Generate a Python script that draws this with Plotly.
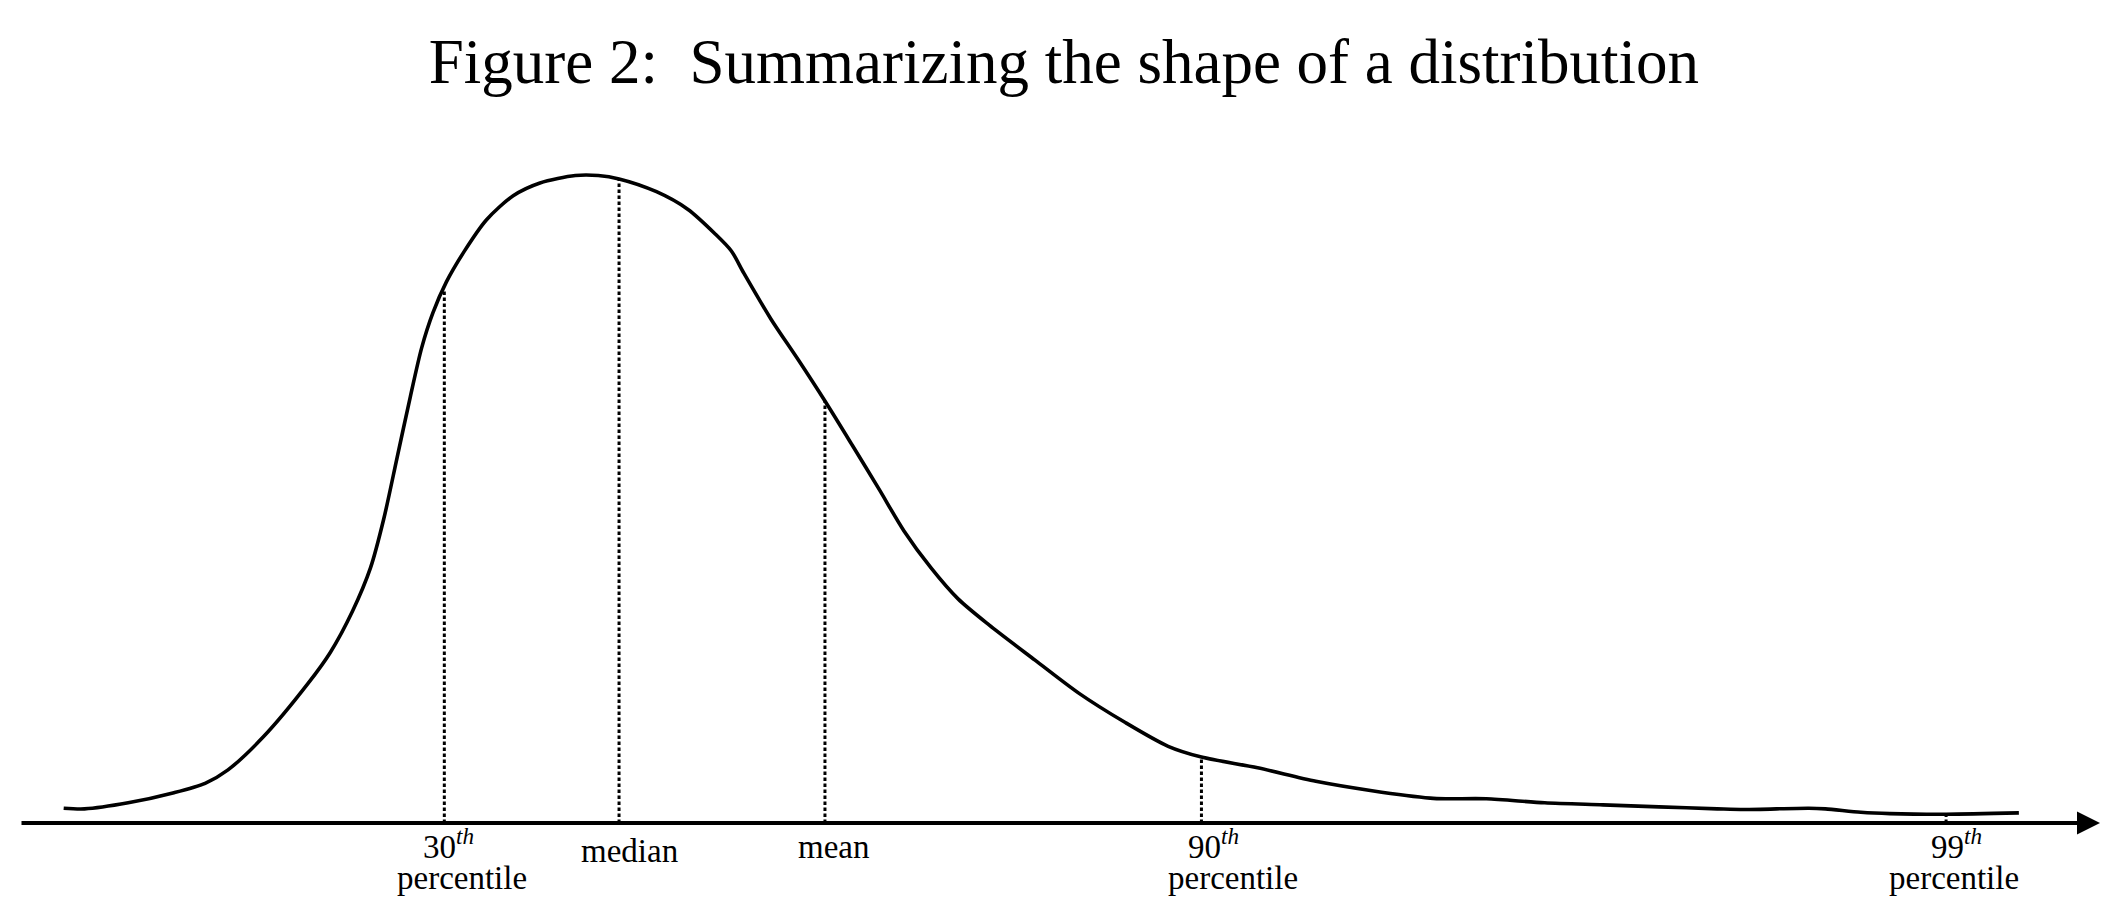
import plotly.graph_objects as go

# ---- data (arbitrary units) ----
curve_x = [2.1, 3.1, 5.2, 7.4, 8.9, 10.0, 11.7, 13.84, 14.91, 15.99, 16.85, 17.49, 18.13,
           18.77, 19.31, 19.85, 20.5, 21.35, 22.42, 23.71, 25.0, 26.7, 27.8, 28.8, 30.6,
           32.1, 33.4, 34.2, 34.8, 36.1, 37.4, 38.7, 40.0, 41.3, 42.5, 43.8, 45.1, 46.6,
           48.8, 50.9, 53.1, 55.2, 56.8, 59.5, 62.3, 65.0, 67.8, 68.6, 70.5, 73.3, 76.1,
           78.8, 81.6, 82.9, 86.0, 86.8, 88.5, 89.9, 92.6, 96.1]
curve_y = [2.2, 2.1, 3.0, 4.5, 5.9, 7.9, 12.8, 20.7, 25.3, 31.5, 37.9, 45.2, 54.3,
           63.4, 70.6, 75.8, 80.4, 84.9, 89.6, 93.2, 95.1, 96.2, 96.2, 95.7, 93.8,
           91.2, 87.6, 85.0, 81.7, 74.9, 68.9, 62.7, 56.2, 49.6, 43.4, 37.9, 33.3, 29.4,
           24.2, 19.3, 15.0, 11.4, 9.8, 8.2, 6.2, 4.8, 3.7, 3.6, 3.6, 3.0, 2.7,
           2.4, 2.1, 2.0, 2.2, 2.1, 1.6, 1.4, 1.3, 1.5]

marker_names = ["30th percentile", "median", "mean", "90th percentile", "99th percentile"]
marker_x = [20.4, 28.8, 38.7, 56.8, 92.6]
marker_top = [79.2, 95.7, 62.7, 9.8, 1.3]

label_line1 = ["30<sup><i>th</i></sup>", "median", "mean", "90<sup><i>th</i></sup>", "99<sup><i>th</i></sup>"]
label_line2 = ["percentile", "", "", "percentile", "percentile"]

title_text = "Figure 2:&nbsp; Summarizing the shape of a distribution"

axis_start, axis_end = 0, 100

# ---- layout / style settings ----
label_dx1 = [0.2, 0.5, 0.4, 0.6, 0.5]
label_dx2 = [0.85, 0, 0, 1.5, 0.4]
label_shift1 = [-44, -48, -44, -44, -44]
serif = "Liberation Serif, Times New Roman, serif"

fig = go.Figure()

# percentile / median / mean markers (dotted verticals)
for name, x, top in zip(marker_names, marker_x, marker_top):
    fig.add_trace(go.Scatter(x=[x, x], y=[0, top], mode="lines",
                             line=dict(color="black", width=3, dash="3.5px,2.5px"),
                             name=name, showlegend=False, hoverinfo="skip"))

# density curve
fig.add_trace(go.Scatter(x=curve_x, y=curve_y, mode="lines",
                         line=dict(color="black", width=3.6, shape="spline", smoothing=0.8),
                         name="density", showlegend=False))

# horizontal axis with arrow
fig.add_annotation(x=axis_end, y=0, ax=axis_start, ay=0, xref="x", yref="y",
                   axref="x", ayref="y", text="", showarrow=True,
                   arrowhead=2, arrowsize=1.15, arrowwidth=4, arrowcolor="black",
                   standoff=0, startstandoff=0)

for i, x in enumerate(marker_x):
    fig.add_annotation(x=x + label_dx1[i], y=0, xref="x", yref="y", text=label_line1[i],
                       showarrow=False, yanchor="bottom", xanchor="center",
                       yshift=label_shift1[i],
                       font=dict(family=serif, size=33, color="black"))
    if label_line2[i]:
        fig.add_annotation(x=x + label_dx2[i], y=0, xref="x", yref="y", text=label_line2[i],
                           showarrow=False, yanchor="top", xanchor="center",
                           yshift=-35,
                           font=dict(family=serif, size=33, color="black"))

# page body adds an 8px offset; margins compensate so the plot lands where the reference has it
fig.update_layout(
    width=2122, height=910,
    margin=dict(l=12, r=30, t=142, b=95),
    paper_bgcolor="white", plot_bgcolor="white",
    title=dict(text=title_text, x=0.4976, xref="container", xanchor="center",
               y=0.966, yref="container", yanchor="top",
               font=dict(family=serif, size=63, color="black")),
    xaxis=dict(range=[axis_start, axis_end], visible=False, fixedrange=True),
    yaxis=dict(range=[0, 100], visible=False, fixedrange=True),
    showlegend=False,
)

fig.write_html("out.html")
